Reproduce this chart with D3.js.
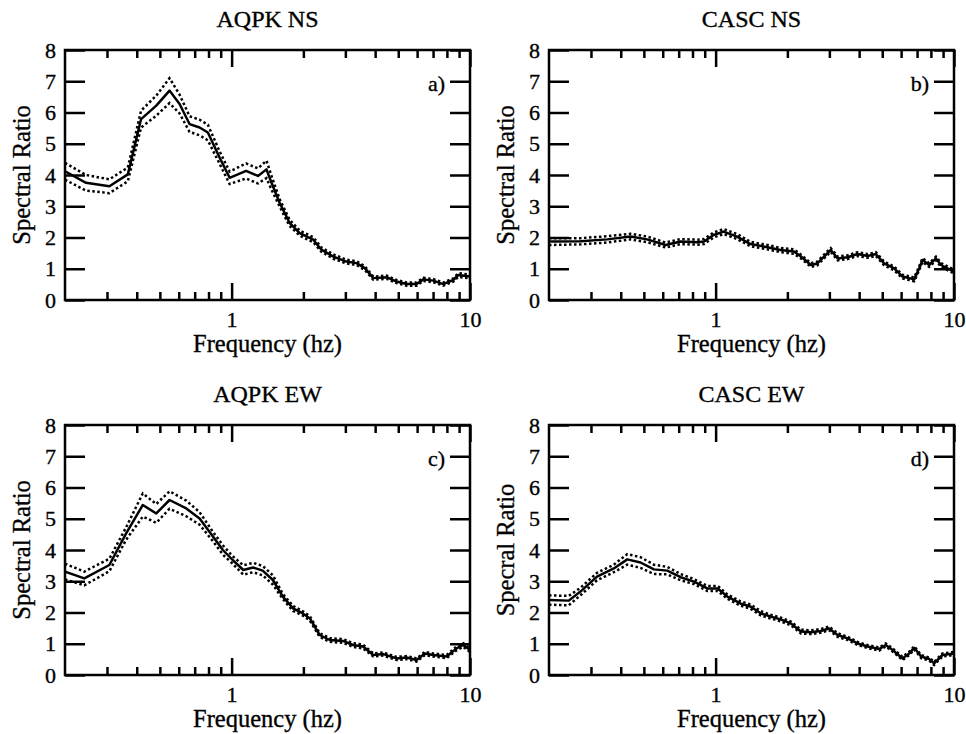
<!DOCTYPE html>
<html>
<head>
<meta charset="utf-8">
<script src="https://cdn.jsdelivr.net/npm/d3@7"></script>
<style>
body { margin: 0; background: #fff; }
text { font-family: "Liberation Serif", "Times New Roman", serif; fill: #000; stroke: #000; stroke-width: 0.35px; }
</style>
</head>
<body>
<script>
// AQPK NS  (a)
var aqpkNsFreq   = [0.2, 0.245, 0.307, 0.367, 0.417, 0.483, 0.549, 0.605, 0.666, 0.734, 0.795, 0.89, 0.981, 1.15, 1.29, 1.40, 1.47, 1.59, 1.75, 1.93, 2.20, 2.38, 2.67, 3.03, 3.34, 3.62, 3.93, 4.47, 4.92, 5.42, 5.97, 6.37, 7.01, 7.72, 8.51, 8.93, 10];
var aqpkNsRatio  = [4.12, 3.75, 3.64, 4.02, 5.79, 6.22, 6.70, 6.27, 5.63, 5.52, 5.36, 4.56, 3.91, 4.13, 3.97, 4.18, 3.75, 3.11, 2.47, 2.14, 1.93, 1.61, 1.39, 1.23, 1.18, 1.02, 0.70, 0.73, 0.59, 0.51, 0.51, 0.66, 0.62, 0.51, 0.64, 0.80, 0.75];
var aqpkNsSpread = [0.27, 0.25, 0.22, 0.22, 0.27, 0.32, 0.40, 0.30, 0.25, 0.25, 0.25, 0.20, 0.20, 0.24, 0.24, 0.28, 0.22, 0.12, 0.10, 0.08, 0.08, 0.07, 0.07, 0.06, 0.06, 0.06, 0.05, 0.05, 0.05, 0.05, 0.05, 0.05, 0.05, 0.05, 0.05, 0.06, 0.06];

// CASC NS  (b)
var cascNsFreq   = [0.2, 0.271, 0.351, 0.44, 0.516, 0.617, 0.713, 0.838, 0.894, 0.98, 1.08, 1.23, 1.40, 1.65, 1.87, 2.13, 2.28, 2.51, 2.67, 2.85, 3.04, 3.25, 3.58, 3.94, 4.34, 4.70, 5.09, 5.61, 6.08, 6.81, 7.14, 7.38, 7.87, 8.40, 8.82, 10];
var cascNsRatio  = [1.87, 1.88, 1.94, 2.03, 1.94, 1.76, 1.87, 1.85, 1.87, 2.08, 2.19, 2.03, 1.79, 1.69, 1.60, 1.55, 1.39, 1.12, 1.17, 1.39, 1.60, 1.33, 1.37, 1.47, 1.41, 1.47, 1.17, 1.01, 0.75, 0.66, 1.01, 1.28, 1.12, 1.33, 1.12, 0.91];
var cascNsSpread = [0.11, 0.10, 0.10, 0.09, 0.09, 0.08, 0.08, 0.08, 0.08, 0.08, 0.08, 0.08, 0.07, 0.07, 0.07, 0.07, 0.06, 0.06, 0.06, 0.06, 0.06, 0.06, 0.06, 0.06, 0.06, 0.06, 0.06, 0.06, 0.06, 0.06, 0.06, 0.06, 0.06, 0.06, 0.06, 0.06];

// AQPK EW  (c)
var aqpkEwFreq   = [0.2, 0.241, 0.307, 0.361, 0.424, 0.483, 0.549, 0.645, 0.734, 0.835, 0.919, 1.01, 1.12, 1.23, 1.35, 1.49, 1.64, 1.81, 1.99, 2.13, 2.34, 2.58, 2.93, 3.23, 3.56, 3.93, 4.33, 4.92, 5.42, 5.97, 6.47, 7.01, 7.98, 8.78, 9.37, 10];
var aqpkEwRatio  = [3.31, 3.09, 3.52, 4.53, 5.44, 5.17, 5.60, 5.33, 5.01, 4.43, 4.00, 3.68, 3.36, 3.44, 3.34, 3.04, 2.51, 2.13, 1.97, 1.81, 1.28, 1.12, 1.09, 0.96, 0.91, 0.64, 0.67, 0.53, 0.56, 0.48, 0.69, 0.64, 0.59, 0.85, 0.96, 0.80];
var aqpkEwSpread = [0.25, 0.22, 0.20, 0.20, 0.37, 0.30, 0.28, 0.25, 0.20, 0.15, 0.15, 0.12, 0.15, 0.15, 0.15, 0.15, 0.08, 0.08, 0.07, 0.07, 0.06, 0.06, 0.06, 0.06, 0.06, 0.05, 0.05, 0.05, 0.05, 0.05, 0.05, 0.05, 0.05, 0.06, 0.06, 0.06];

// CASC EW  (d)
var cascEwFreq   = [0.2, 0.242, 0.271, 0.318, 0.374, 0.426, 0.484, 0.551, 0.627, 0.713, 0.811, 0.923, 1.02, 1.12, 1.27, 1.40, 1.55, 1.70, 1.87, 2.07, 2.28, 2.51, 2.76, 2.99, 3.25, 3.58, 3.94, 4.34, 4.85, 5.17, 5.53, 6.08, 6.49, 6.81, 7.28, 7.87, 8.25, 8.95, 10];
var cascEwRatio  = [2.40, 2.38, 2.67, 3.15, 3.41, 3.70, 3.60, 3.38, 3.34, 3.13, 2.99, 2.77, 2.77, 2.51, 2.29, 2.19, 1.97, 1.87, 1.78, 1.65, 1.39, 1.37, 1.41, 1.49, 1.28, 1.17, 1.01, 0.91, 0.83, 0.96, 0.80, 0.53, 0.69, 0.87, 0.59, 0.51, 0.37, 0.64, 0.69];
var cascEwSpread = [0.15, 0.15, 0.12, 0.12, 0.12, 0.17, 0.17, 0.15, 0.12, 0.10, 0.08, 0.08, 0.08, 0.07, 0.07, 0.07, 0.07, 0.06, 0.06, 0.06, 0.06, 0.06, 0.06, 0.06, 0.06, 0.05, 0.05, 0.05, 0.05, 0.05, 0.05, 0.05, 0.05, 0.05, 0.05, 0.05, 0.05, 0.05, 0.05];

var minorTicks = [0.3, 0.4, 0.5, 0.6, 0.7, 0.8, 0.9, 2, 3, 4, 5, 6, 7, 8, 9];
var majorTicks = [1, 10];
var yTicks = [0, 1, 2, 3, 4, 5, 6, 7, 8];

var svg_width  = 966;
var svg_height = 734;
var W = 405, H = 250;
var TICK_FONT = 22;
var LABEL_FONT = 24.5;

var svg = d3.select('body').append('svg')
            .attr('width', svg_width)
            .attr('height', svg_height);

var panels = [
  {title: 'AQPK NS', tag: 'a)', ylab: 'Spectral Ratio', f: aqpkNsFreq, r: aqpkNsRatio, s: aqpkNsSpread, left: 65,  top: 50},
  {title: 'CASC NS', tag: 'b)', ylab: 'Spectral Ratio', f: cascNsFreq, r: cascNsRatio, s: cascNsSpread, left: 549, top: 50},
  {title: 'AQPK EW', tag: 'c)', ylab: 'Spectral Ratio', f: aqpkEwFreq, r: aqpkEwRatio, s: aqpkEwSpread, left: 65,  top: 425},
  {title: 'CASC EW', tag: 'd)', ylab: 'Specral Ratio',  f: cascEwFreq, r: cascEwRatio, s: cascEwSpread, left: 549, top: 425}
];

function styleAxis(sel, showText) {
  sel.select('.domain').remove();
  sel.selectAll('line').attr('stroke', '#000').attr('stroke-width', 2.5);
  if (showText) {
    sel.selectAll('text').style('font-size', TICK_FONT + 'px');
  } else {
    sel.selectAll('text').remove();
  }
}

panels.forEach(function(p) {
  var g = svg.append('g').attr('transform', 'translate(' + p.left + ',' + p.top + ')');

  var x = d3.scaleLog().domain([0.2, 10]).range([0, W]);
  var y = d3.scaleLinear().domain([0, 8]).range([H, 0]);

  // ticks, all pointing in
  g.append('g').attr('transform', 'translate(0,' + H + ')')
    .call(d3.axisBottom(x).tickValues(minorTicks).tickSize(-8).tickFormat(''))
    .call(styleAxis, false);
  g.append('g').attr('transform', 'translate(0,' + H + ')')
    .call(d3.axisBottom(x).tickValues(majorTicks).tickSize(-17).tickPadding(11).tickFormat(d3.format('d')))
    .call(styleAxis, true);
  g.append('g')
    .call(d3.axisTop(x).tickValues(minorTicks).tickSize(-8).tickFormat(''))
    .call(styleAxis, false);
  g.append('g')
    .call(d3.axisTop(x).tickValues(majorTicks).tickSize(-17).tickFormat(''))
    .call(styleAxis, false);
  g.append('g')
    .call(d3.axisLeft(y).tickValues(yTicks).tickSize(-20).tickPadding(9).tickFormat(d3.format('d')))
    .call(styleAxis, true);
  g.append('g').attr('transform', 'translate(' + W + ',0)')
    .call(d3.axisRight(y).tickValues(yTicks).tickSize(-20).tickFormat(''))
    .call(styleAxis, false);

  // frame
  g.append('rect')
    .attr('width', W).attr('height', H)
    .attr('fill', 'none').attr('stroke', '#000').attr('stroke-width', 2.5);

  var pts = p.f.map(function(f, i) { return {f: f, r: p.r[i], s: p.s[i]}; });

  var mid = d3.line().x(d => x(d.f)).y(d => y(d.r));
  var up  = d3.line().x(d => x(d.f)).y(d => y(d.r + d.s));
  var lo  = d3.line().x(d => x(d.f)).y(d => y(d.r - d.s));

  [up, lo].forEach(function(l) {
    g.append('path').datum(pts)
      .attr('d', l)
      .attr('fill', 'none').attr('stroke', '#000')
      .attr('stroke-width', 2.5)
      .attr('stroke-dasharray', '2.5,2.5');
  });
  g.append('path').datum(pts)
    .attr('d', mid)
    .attr('fill', 'none').attr('stroke', '#000')
    .attr('stroke-width', 2.5)
    .attr('stroke-linejoin', 'round');

  // texts
  g.append('text')
    .attr('x', W / 2).attr('y', -23)
    .attr('text-anchor', 'middle')
    .style('font-size', '24px')
    .text(p.title);
  g.append('text')
    .attr('x', W / 2).attr('y', H + 52)
    .attr('text-anchor', 'middle')
    .style('font-size', LABEL_FONT + 'px')
    .text('Frequency (hz)');
  g.append('text')
    .attr('transform', 'translate(-35,' + (H / 2) + ') rotate(-90)')
    .attr('text-anchor', 'middle')
    .style('font-size', LABEL_FONT + 'px')
    .text(p.ylab);
  g.append('text')
    .attr('x', W - 25).attr('y', y(7) + 5)
    .attr('text-anchor', 'end')
    .attr('dominant-baseline', 'middle')
    .style('font-size', '22px')
    .text(p.tag);
});
</script>
</body>
</html>
